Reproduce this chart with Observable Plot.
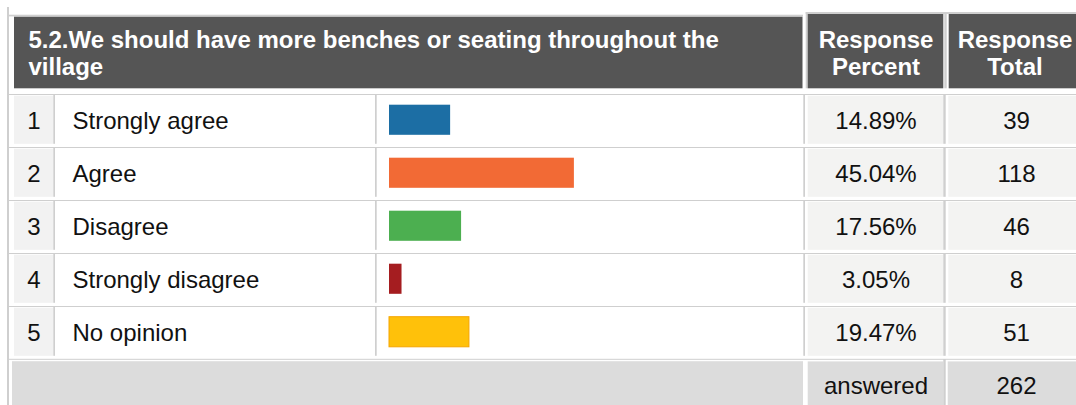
<!DOCTYPE html>
<html>
<head>
<meta charset="utf-8">
<script src="https://cdn.jsdelivr.net/npm/d3@7"></script>
<script src="https://cdn.jsdelivr.net/npm/@observablehq/plot@0.6"></script>
<style>
  html, body { margin: 0; padding: 0; background: #ffffff; }
  svg { display: block; }
</style>
</head>
<body>
<script>
// ---- data ----
const question = "5.2.We should have more benches or seating throughout the village";
const headerLabels = ["Response\nPercent", "Response\nTotal"];
const rowNumbers = ["1", "2", "3", "4", "5"];
const answers = ["Strongly agree", "Agree", "Disagree", "Strongly disagree", "No opinion"];
const percents = [14.89, 45.04, 17.56, 3.05, 19.47];
const totals = [39, 118, 46, 8, 51];
const answeredLabel = "answered";
const answeredTotal = 262;

// ---- styles / layout ----
const palette = ["#1c6ea4", "#f26a35", "#4caf50", "#a51d20", "#ffc10a"];
const W = 1076, H = 405;
const rowTop = 92.3, rowPitch = 53.6;
const FONT = "'Liberation Sans', Arial, Helvetica, sans-serif";
const GRID = "#cfcfcf", DARK = "#555555", CELL = "#f3f3f2", FOOT = "#dcdcdc";

const rows = rowNumbers.map((k, i) => ({
  key: k, label: answers[i], pct: percents[i], total: totals[i], color: palette[i]
}));
const footer = [{key: answeredLabel, text: answeredLabel, total: answeredTotal}];
const allRows = [...rows, ...footer];

// fixed rectangle (layout decoration)
const box = (l, r, t, b, fill) =>
  Plot.rect([null], {insetLeft: l, insetRight: W - r, insetTop: t, insetBottom: H - b, fill});
// per-row rectangle, vertical extent from the y band scale
const rowBox = (data, l, r, insetTop, insetBottom, fill) =>
  Plot.cell(data, {y: "key", fill, insetLeft: l, insetRight: W - r, insetTop, insetBottom});

const lineIn = rowPitch - 1.6;   // inset bottom for 1.6px top line
const contentTop = 1.7, contentBottom = 3.2;

const chart = Plot.plot({
  width: W,
  height: H,
  margin: 0,
  style: {background: "#ffffff", fontFamily: FONT},
  x: {domain: [0, 100], range: [389, 799.5], axis: null},
  y: {type: "band", domain: allRows.map(d => d.key), range: [rowTop, rowTop + allRows.length * rowPitch], padding: 0, axis: null},
  marks: [
    // outer left line
    box(7, 9, 7, H, GRID),
    // header
    box(9, 803, 14.7, 16.4, GRID),
    box(14, 802.5, 16.7, 88.3, DARK),
    box(805.7, W, 12, 14, GRID),
    box(805.7, 807.7, 12, 88.3, GRID),
    box(807.7, 943.3, 14, 88.3, DARK),
    box(944.3, 946.7, 12, 88.3, GRID),
    box(948.7, W, 14, 88.3, DARK),
    Plot.text([question], {
      text: d => d, frameAnchor: "top-left", dx: 28, dy: 28.7, lineAnchor: "top",
      lineWidth: 30.2, lineHeight: 1.125, fontSize: 24, fontWeight: "bold", fill: "#ffffff", textAnchor: "start"
    }),
    Plot.text([headerLabels[0]], {
      text: d => d, frameAnchor: "top-left", dx: 875.5, dy: 28.7, lineAnchor: "top",
      lineHeight: 1.125, fontSize: 24, fontWeight: "bold", fill: "#ffffff", textAnchor: "middle"
    }),
    Plot.text([headerLabels[1]], {
      text: d => d, frameAnchor: "top-left", dx: 1014.5, dy: 28.7, lineAnchor: "top",
      lineHeight: 1.125, fontSize: 24, fontWeight: "bold", fill: "#ffffff", textAnchor: "middle"
    }),
    // row grid lines
    rowBox(rows, 9, W, 0, lineIn, GRID),
    // row cells
    rowBox(rows, 14, 53.3, contentTop, contentBottom, "#f2f2f2"),
    rowBox(rows, 53.3, 55, 0, contentBottom, GRID),
    rowBox(rows, 375, 376.7, 0, contentBottom, GRID),
    rowBox(rows, 803.3, 805, 0, contentBottom, GRID),
    rowBox(rows, 807.7, 943.3, contentTop, contentBottom, CELL),
    rowBox(rows, 943.3, 945.7, 0, contentBottom, GRID),
    rowBox(rows, 948.3, W, contentTop, contentBottom, CELL),
    // footer
    rowBox(footer, 9, W, -0.2, lineIn + 0.2, GRID),
    rowBox(footer, 12, 803, 2.2, 0, FOOT),
    rowBox(footer, 807.7, 943.3, 2.4, 0, FOOT),
    rowBox(footer, 943.3, 945.7, 0, 0, GRID),
    rowBox(footer, 947.7, W, 2.4, 0, FOOT),
    // bars
    Plot.barX(rows, {
      x: "pct", y: "key", fill: "color",
      stroke: d => d.color === palette[4] ? "#f5a500" : "none",
      insetTop: 10.7, insetBottom: 12.2
    }),
    // row texts
    Plot.text(rows, {y: "key", text: "key", frameAnchor: "left", dx: 33.5, textAnchor: "middle", fontSize: 24, fill: "#111111", dy: 0.6}),
    Plot.text(rows, {y: "key", text: "label", frameAnchor: "left", dx: 72, textAnchor: "start", fontSize: 24, fill: "#111111", dy: 0.6}),
    Plot.text(rows, {y: "key", text: d => d.pct.toFixed(2) + "%", frameAnchor: "left", dx: 875.5, textAnchor: "middle", fontSize: 24, fill: "#111111", dy: 0.6}),
    Plot.text(rows, {y: "key", text: d => String(d.total), frameAnchor: "left", dx: 1016, textAnchor: "middle", fontSize: 24, fill: "#111111", dy: 0.6}),
    Plot.text(footer, {y: "key", text: "text", frameAnchor: "left", dx: 875.5, textAnchor: "middle", fontSize: 24, fill: "#111111", dy: 0.6}),
    Plot.text(footer, {y: "key", text: d => String(d.total), frameAnchor: "left", dx: 1016, textAnchor: "middle", fontSize: 24, fill: "#111111", dy: 0.6})
  ]
});
document.body.appendChild(chart);
</script>
</body>
</html>
